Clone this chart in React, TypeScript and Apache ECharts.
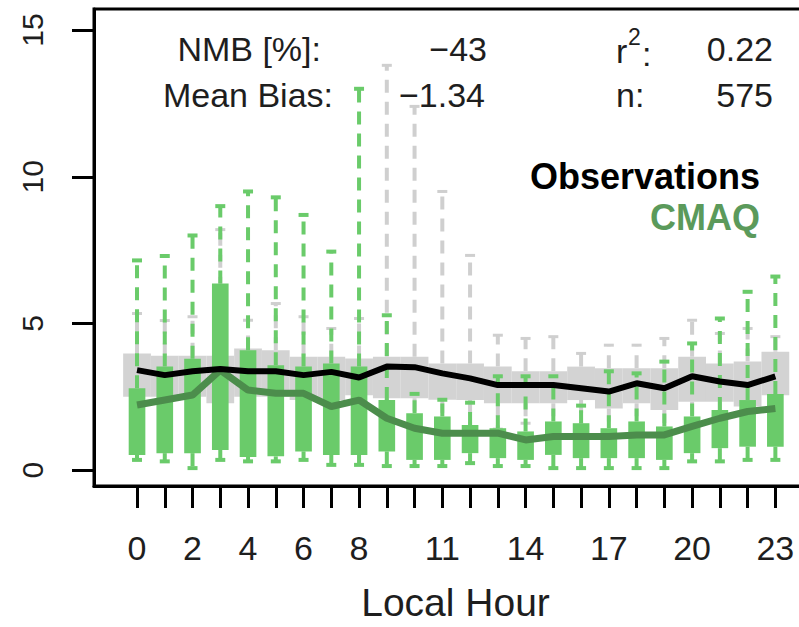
import React, { useEffect, useRef } from "react";
import * as echarts from "echarts";

const hours = [0, 1, 2, 3, 4, 5, 6, 7, 8, 9, 10, 11, 12, 13, 14, 15, 16, 17, 18, 19, 20, 21, 22, 23];
const hourTickLabels = [0, 2, 4, 6, 8, 11, 14, 17, 20, 23];
const yTickValues = [0, 5, 10, 15];

// Observations (gray boxes)
const obsLow = [1.2, 1.2, 1.2, 1.0, 1.2, 1.2, 1.2, 1.2, 1.2, 1.2, 1.2, 1.3, 1.3, 1.4, 1.6, 1.5, 1.5, 1.3, 1.4, 1.3, 1.3, 1.3, 1.2, 1.3];
const obsQ1 = [2.5, 2.5, 2.5, 2.28, 2.5, 2.5, 2.39, 2.39, 2.55, 2.45, 2.45, 2.4, 2.39, 2.28, 2.28, 2.28, 2.39, 2.1, 2.28, 2.05, 2.33, 2.33, 2.17, 2.55];
const obsMedian = [3.41, 3.24, 3.37, 3.45, 3.37, 3.37, 3.24, 3.35, 3.16, 3.53, 3.51, 3.3, 3.13, 2.9, 2.9, 2.9, 2.79, 2.68, 2.96, 2.79, 3.2, 3.02, 2.9, 3.2];
const obsQ3 = [3.98, 3.9, 3.9, 3.9, 4.15, 4.09, 3.87, 3.87, 3.81, 3.87, 3.87, 3.64, 3.64, 3.53, 3.37, 3.37, 3.53, 3.47, 3.47, 3.47, 3.87, 3.64, 3.7, 4.04];
const obsHigh = [5.34, 5.1, 5.23, 8.2, 5.11, 5.68, 5.23, 4.83, 5.17, 13.8, 12.4, 9.5, 7.32, 4.6, 4.49, 4.55, 3.98, 4.26, 4.26, 4.49, 5.11, 4.66, 4.83, 4.55];

// CMAQ (green boxes)
const cmaqLow = [0.35, 0.3, 0.07, 0.35, 0.3, 0.3, 0.35, 0.18, 0.18, 0.14, 0.14, 0.14, 0.24, 0.14, 0.14, 0.07, 0.07, 0.07, 0.07, 0.07, 0.3, 0.3, 0.35, 0.35];
const cmaqQ1 = [0.52, 0.58, 0.58, 0.69, 0.45, 0.47, 0.64, 0.52, 0.52, 0.64, 0.35, 0.35, 0.58, 0.41, 0.35, 0.52, 0.41, 0.41, 0.41, 0.35, 0.58, 0.75, 0.8, 0.8];
const cmaqMedian = [2.22, 2.39, 2.56, 3.41, 2.73, 2.62, 2.62, 2.17, 2.39, 1.77, 1.43, 1.26, 1.26, 1.26, 1.03, 1.15, 1.15, 1.15, 1.2, 1.2, 1.49, 1.77, 2.0, 2.1];
const cmaqQ3 = [2.79, 3.53, 3.8, 6.36, 4.09, 3.58, 3.53, 3.64, 3.53, 2.39, 1.94, 1.83, 1.54, 1.43, 1.32, 1.66, 1.6, 1.43, 1.66, 1.49, 1.83, 2.05, 2.39, 2.6];
const cmaqHigh = [7.15, 7.3, 8.0, 9.0, 9.5, 9.3, 8.7, 7.45, 13.0, 5.28, 2.6, 2.4, 2.3, 3.2, 3.2, 3.2, 2.2, 3.37, 3.3, 3.7, 4.32, 5.17, 6.08, 6.6];

const FONT = "'Liberation Sans', Arial, Helvetica, sans-serif";

function boxRenderer(o: {
  boxFrac: number;
  capFrac: number;
  boxColor: string;
  whiskerColor: string;
  whiskerWidth: number;
  capWidth: number;
  dash: number[];
}) {
  return (params: any, api: any) => {
    const x = api.value(0);
    const lo = api.coord([x, api.value(1)]);
    const q1 = api.coord([x, api.value(2)]);
    const q3 = api.coord([x, api.value(4)]);
    const hi = api.coord([x, api.value(5)]);
    const unit = api.size([1, 0])[0];
    const bw = unit * o.boxFrac;
    const cw = unit * o.capFrac;
    const cx = lo[0];
    const ws = { stroke: o.whiskerColor, lineWidth: o.whiskerWidth, lineDash: o.dash, fill: null };
    const cs = { stroke: o.whiskerColor, lineWidth: o.capWidth, fill: null };
    return {
      type: "group",
      children: [
        { type: "line", shape: { x1: cx, y1: q3[1], x2: cx, y2: hi[1] }, style: ws },
        { type: "line", shape: { x1: cx, y1: q1[1], x2: cx, y2: lo[1] }, style: ws },
        { type: "line", shape: { x1: cx - cw / 2, y1: hi[1], x2: cx + cw / 2, y2: hi[1] }, style: cs },
        { type: "line", shape: { x1: cx - cw / 2, y1: lo[1], x2: cx + cw / 2, y2: lo[1] }, style: cs },
        { type: "rect", shape: { x: cx - bw / 2, y: q3[1], width: bw, height: q1[1] - q3[1] }, style: { fill: o.boxColor } },
      ],
    };
  };
}

export default function App() {
  const ref = useRef<HTMLDivElement>(null);
  useEffect(() => {
    const chart = echarts.init(ref.current!, null, { renderer: "svg" });
    const obsData = hours.map((h, i) => [h, obsLow[i], obsQ1[i], obsMedian[i], obsQ3[i], obsHigh[i]]);
    const cmaqData = hours.map((h, i) => [h, cmaqLow[i], cmaqQ1[i], cmaqMedian[i], cmaqQ3[i], cmaqHigh[i]]);
    const textStyle = (extra: any) => ({ fontFamily: FONT, fontSize: 34, fill: "#1e1e1e", ...extra });
    const option: any = {
      animation: false,
      backgroundColor: "#fff",
      grid: { left: 94, top: 9, right: 13, bottom: 139, show: true, borderColor: "#000", borderWidth: 3, backgroundColor: "transparent" },
      xAxis: {
        type: "value",
        min: -1.55,
        max: 24.5,
        splitLine: { show: false },
        axisLine: { show: true, onZero: false, lineStyle: { color: "#000", width: 3 } },
        axisTick: { show: true, customValues: hours, length: 22, lineStyle: { color: "#000", width: 3 } },
        axisLabel: { customValues: hourTickLabels, margin: 45, fontSize: 34, fontFamily: FONT, color: "#1e1e1e" },
        name: "Local Hour",
        nameLocation: "middle",
        nameGap: 97,
        nameTextStyle: { fontSize: 39, fontFamily: FONT, color: "#1e1e1e" },
      },
      yAxis: {
        type: "value",
        min: -0.54,
        max: 15.72,
        splitLine: { show: false },
        axisLine: { show: true, onZero: false, lineStyle: { color: "#000", width: 3 } },
        axisTick: { show: true, customValues: yTickValues, length: 22, lineStyle: { color: "#000", width: 3 } },
        axisLabel: { customValues: yTickValues, rotate: 90, margin: 47, fontSize: 30, fontFamily: FONT, color: "#1e1e1e" },
      },
      series: [
        {
          type: "custom",
          name: "obs",
          data: obsData,
          encode: { x: 0, y: [1, 2, 3, 4, 5] },
          renderItem: boxRenderer({ boxFrac: 1.0, capFrac: 0.36, boxColor: "#d3d3d3", whiskerColor: "#cfcfcf", whiskerWidth: 4, capWidth: 3, dash: [13, 9] }),
          z: 1,
        },
        {
          type: "custom",
          name: "cmaq",
          data: cmaqData,
          encode: { x: 0, y: [1, 2, 3, 4, 5] },
          renderItem: boxRenderer({ boxFrac: 0.6, capFrac: 0.36, boxColor: "#6acb6a", whiskerColor: "#6acb6a", whiskerWidth: 4, capWidth: 4, dash: [13, 9] }),
          z: 2,
        },
        {
          type: "line",
          name: "cmaqMedian",
          data: hours.map((h, i) => [h, cmaqMedian[i]]),
          symbol: "none",
          lineStyle: { color: "#4c8d4c", width: 7 },
          z: 3,
        },
        {
          type: "line",
          name: "obsMedian",
          data: hours.map((h, i) => [h, obsMedian[i]]),
          symbol: "none",
          lineStyle: { color: "#000", width: 6 },
          z: 4,
        },
      ],
      graphic: [
        { type: "text", x: 321, y: 49, style: textStyle({ text: "NMB [%]:", align: "right", verticalAlign: "middle" }) },
        { type: "text", x: 487, y: 49, style: textStyle({ text: "−43", align: "right", verticalAlign: "middle" }) },
        { type: "text", x: 333, y: 95, style: textStyle({ text: "Mean Bias:", align: "right", verticalAlign: "middle" }) },
        { type: "text", x: 485, y: 95, style: textStyle({ text: "−1.34", align: "right", verticalAlign: "middle" }) },
        { type: "text", x: 616, y: 51, style: textStyle({ text: "r", align: "left", verticalAlign: "middle" }) },
        { type: "text", x: 628, y: 37, style: textStyle({ text: "2", fontSize: 23, align: "left", verticalAlign: "middle" }) },
        { type: "text", x: 642, y: 54, style: textStyle({ text: ":", align: "left", verticalAlign: "middle" }) },
        { type: "text", x: 773, y: 49, style: textStyle({ text: "0.22", align: "right", verticalAlign: "middle" }) },
        { type: "text", x: 616, y: 95, style: textStyle({ text: "n:", align: "left", verticalAlign: "middle" }) },
        { type: "text", x: 773, y: 95, style: textStyle({ text: "575", align: "right", verticalAlign: "middle" }) },
        { type: "text", x: 760, y: 176, style: textStyle({ text: "Observations", fontSize: 36, fontWeight: "bold", fill: "#000", align: "right", verticalAlign: "middle" }) },
        { type: "text", x: 760, y: 217, style: textStyle({ text: "CMAQ", fontSize: 36, fontWeight: "bold", fill: "#5b9a5b", align: "right", verticalAlign: "middle" }) },
      ],
    };
    chart.setOption(option);
    return () => chart.dispose();
  }, []);
  return (
    <div style={{ position: "fixed", left: 0, top: 0, width: 799, height: 627, overflow: "hidden", background: "#fff" }}>
      <div ref={ref} style={{ width: 830, height: 627 }} />
    </div>
  );
}
